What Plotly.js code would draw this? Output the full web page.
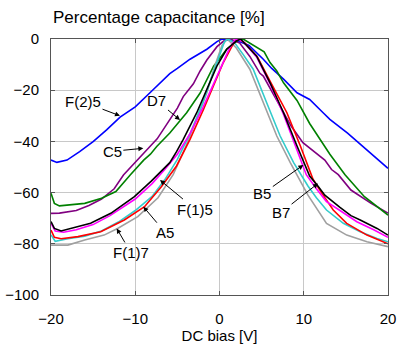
<!DOCTYPE html>
<html>
<head>
<meta charset="utf-8">
<script src="https://cdn.plot.ly/plotly-3.0.1.min.js"></script>
<style>html,body{margin:0;padding:0;background:#fff;}#chart{width:398px;height:345px;}</style>
</head>
<body>
<div id="chart"></div>
<script>
// Series names (as labelled on the chart)
const seriesNames = ["F(2)5", "C5", "D7", "F(1)7", "B7cyan", "A5", "B5", "F(1)5"];

// Blue
const xBlue = [-20, -19.3, -18.1, -16.6, -15, -13.4, -11.8, -10, -8.1, -5.9, -5, -3.5, -1.5, -0.3, 0.3, 1.5, 2.5, 3.5, 5.2, 6.2, 7.6, 9.2, 10.7, 12.3, 13.1, 15.2, 17.2, 20];
const yBlue = [-47.3, -48.2, -47.3, -44, -40.1, -35.5, -30.5, -26.5, -20.5, -13.5, -11.5, -7.9, -4, -1, 0, -0.5, -1.2, -2.5, -7.9, -11.5, -15.7, -21, -23.6, -28.8, -31.4, -36.8, -42.6, -50.5];

// Purple
const xPurple = [-20, -19, -17, -15.5, -14, -12.5, -11.4, -10, -8.2, -7.4, -6.3, -5, -4.3, -3.1, -2.3, -1.5, -0.3, 0.5, 1.3, 2.4, 3.6, 4.8, 5.2, 6.4, 8, 8.5, 9.9, 10.5, 11.9, 12.5, 13.3, 14.1, 15.6, 18, 20];
const yPurple = [-68.1, -68, -67, -65, -62.5, -58.5, -53.1, -48, -41.8, -39, -33.5, -27, -22.5, -17.5, -12.5, -8.2, -3, -0.8, 0, -1.6, -6.8, -13.4, -14.5, -21.5, -31.4, -34, -40.5, -42, -45.7, -47.3, -51, -53, -59, -64.2, -68];

// Green
const xGreen = [-20, -19.6, -19, -17.5, -16, -14, -12.3, -10.6, -9, -8.2, -7.45, -5.9, -4.3, -3.9, -2.3, -0.7, 0.85, 2.2, 2.8, 3.6, 5.3, 6, 6.8, 7.6, 9.2, 10.7, 12.3, 13.1, 14.9, 17.2, 20];
const yGreen = [-60.3, -64.2, -65.2, -64.8, -64.2, -62.2, -59.6, -53.1, -47.3, -45, -42, -36.7, -30.3, -28.8, -21.1, -10.6, -4, -0.4, 0, -1.5, -5, -9.2, -12.5, -17.1, -24, -33, -41, -45, -53, -61.6, -68.8];

// Gray
const xGray = [-20, -18, -16, -13.7, -12.1, -9.7, -7.3, -5.5, -4, -2.3, -1.5, -0.5, 0.3, 0.9, 2, 3.6, 5.2, 6.8, 8.4, 9.9, 10.5, 12.7, 15.1, 17.5, 20];
const yGray = [-80.5, -80.5, -78.5, -76.6, -74, -69.4, -62, -53, -42, -28, -21, -10, -2.5, 0, -3.5, -11.8, -24.9, -37.9, -48.3, -57.4, -61, -72, -76.6, -79.2, -81.1];

// Cyan
const xCyan = [-20, -19.5, -18, -16, -14, -12, -10, -8, -6.5, -5, -3.5, -2, -1, 0, 0.6, 1, 1.8, 2.8, 4, 5.6, 7.2, 8.8, 10.5, 11.5, 12.7, 14.7, 16.7, 18.7, 20];
const yCyan = [-76.5, -79, -78, -77, -75, -71.5, -67, -61.5, -55, -47, -37, -25, -15.5, -6, -1, 0, -1.5, -6, -11.8, -24.9, -37.9, -48.3, -57.4, -62, -66.8, -72, -75.3, -77.9, -79.2];

// Red
const xRed = [-20, -19.6, -18.8, -16.8, -14.1, -11.3, -8.9, -6.9, -5.1, -3.5, -1.9, -0.7, 0.45, 1.6, 2.2, 3, 4.5, 6, 8, 9.6, 11.1, 12.2, 13.5, 15.1, 17.5, 20];
const yRed = [-74.6, -77.5, -78, -77.2, -75.3, -70.7, -65.5, -57.7, -49.6, -39.2, -27.5, -18.4, -9.2, -2.1, 0, -1.5, -7, -16.5, -28.8, -41.8, -54.8, -60.5, -66.8, -72, -76.6, -80];

// Magenta
const xMagenta = [-20, -19.5, -18.5, -17, -15, -13, -10, -8, -6.5, -5, -3.5, -2, -0.7, 0.5, 1.2, 1.9, 2.8, 4.4, 6, 7.6, 9.2, 10.3, 11.5, 12.7, 14.3, 16.3, 18.3, 20];
const yMagenta = [-72, -75, -75.5, -74.5, -72.5, -69, -62.5, -56.5, -51, -45, -37, -27, -17.5, -8.5, -3.5, 0, -1, -7, -17.5, -29.5, -43, -53, -58.5, -63.5, -67, -71.4, -74.5, -77.5];

// Black
const xBlack = [-20, -19.6, -18.8, -17.6, -15.3, -12.9, -10.1, -8.1, -6.9, -5.9, -5.1, -4.3, -2.7, -1.5, -0.3, 0.85, 2, 2.5, 3.2, 4.4, 6, 7.6, 9.2, 10.7, 11.7, 12.5, 14.3, 15.6, 16.7, 18.7, 20];
const yBlack = [-71.3, -74, -75, -74, -72, -68.1, -61.6, -55.5, -51.5, -48.3, -44, -39.2, -28.8, -19.6, -10.5, -4, -0.8, 0, -2.3, -6.6, -17.1, -28.8, -41.8, -53.5, -57.5, -61, -65.8, -69, -70.7, -74, -76.6];

// Annotation labels and arrow tips (data coordinates)
const labelText = ["F(2)5", "D7", "C5", "F(1)5", "A5", "F(1)7", "B5", "B7"];
const labelTipX = [-11.81, -4.69, -9.04, -7.06, -9.04, -12.2, 9.95, 11.7];
const labelTipY = [-30.0, -31.6, -42.7, -55.1, -65.5, -74.0, -49.2, -56.4];
const labelDX = [-37, -23, -31, 35, 22, 14, -41, -37];
const labelDY = [-14, -19, 3, 29, 26, 24, 29, 29];

const FONT = "Arial, 'Liberation Sans', sans-serif";

function tr(x, y, color) {
  return {x: x, y: y, type: 'scatter', mode: 'lines',
          line: {color: color, width: 1.6}, showlegend: false, hoverinfo: 'skip'};
}

const data = [
  tr(xBlue, yBlue, '#0000ff'),
  tr(xPurple, yPurple, '#800080'),
  tr(xGreen, yGreen, '#008000'),
  tr(xGray, yGray, '#a0a0a0'),
  tr(xCyan, yCyan, '#33cccc'),
  tr(xRed, yRed, '#ff0000'),
  tr(xMagenta, yMagenta, '#ff00ff'),
  tr(xBlack, yBlack, '#000000')
];

const annotations = labelText.map((t, i) => ({
  x: labelTipX[i], y: labelTipY[i], xref: 'x', yref: 'y',
  text: t, showarrow: true, ax: labelDX[i], ay: labelDY[i],
  arrowhead: 2, arrowsize: 1, arrowwidth: 1, arrowcolor: '#000',
  font: {family: FONT, size: 15, color: '#000'}
}));

const axisCommon = {
  showgrid: true, gridcolor: '#c8c8c8', gridwidth: 1,
  showline: true, linecolor: '#555', linewidth: 1, mirror: 'ticks',
  ticks: 'inside', ticklen: 4, tickcolor: '#555', tickwidth: 1,
  zeroline: false, tickfont: {family: FONT, size: 15, color: '#000'},
  fixedrange: true
};

const layout = {
  width: 398, height: 345,
  margin: {l: 51, r: 10, t: 39, b: 50, pad: 0},
  paper_bgcolor: '#fff', plot_bgcolor: '#fff',
  font: {family: FONT, color: '#000'},
  title: {text: 'Percentage capacitance [%]', font: {family: FONT, size: 17, color: '#000'},
          xref: 'container', yref: 'container', x: 53/398, xanchor: 'left', y: 1 - 17/345, yanchor: 'middle'},
  xaxis: Object.assign({}, axisCommon, {range: [-20, 20], dtick: 10, tick0: 0,
          ticklabelstandoff: 10,
          title: {text: 'DC bias [V]', font: {family: FONT, size: 15, color: '#000'}, standoff: 1}}),
  yaxis: Object.assign({}, axisCommon, {range: [-100, 0], dtick: 20, tick0: 0,
          ticklabelstandoff: 8}),
  annotations: annotations
};

Plotly.newPlot('chart', data, layout, {staticPlot: true, displayModeBar: false});
</script>
</body>
</html>
